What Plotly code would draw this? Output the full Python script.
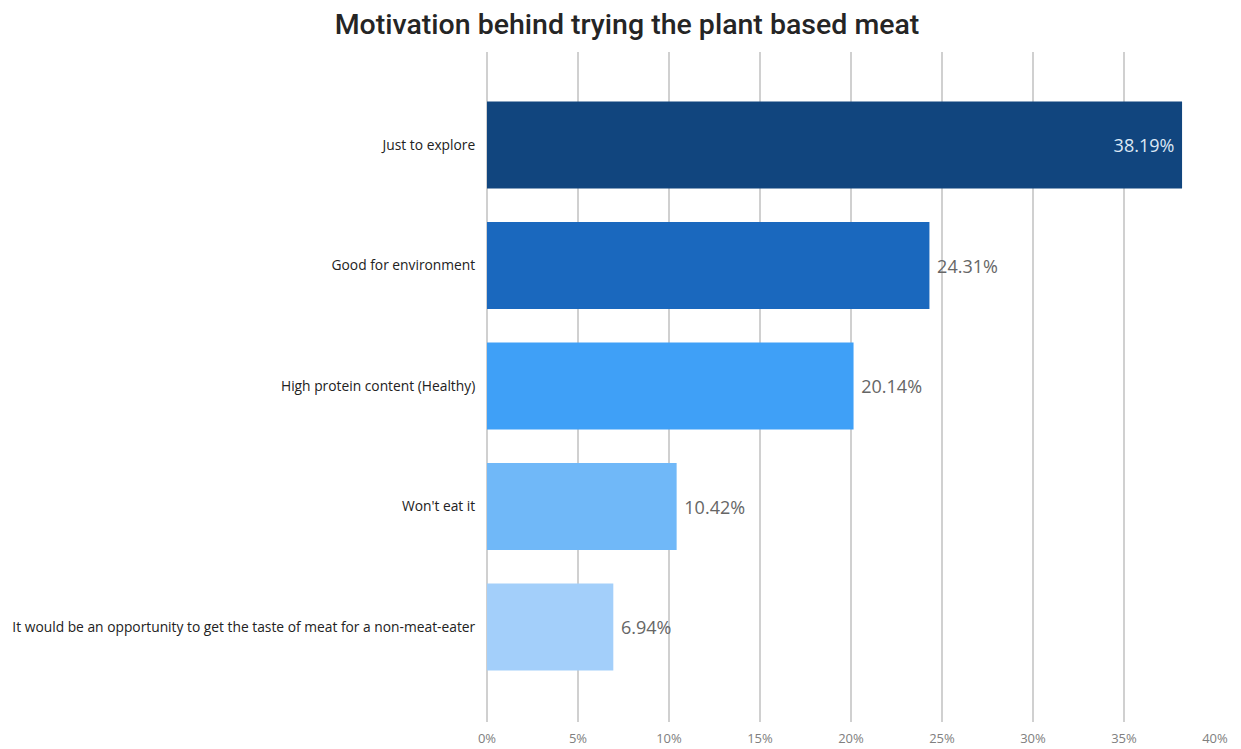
import plotly.graph_objects as go

categories = [
    "Just to explore",
    "Good for environment",
    "High protein content (Healthy)",
    "Won't eat it",
    "It would be an opportunity to get the taste of meat for a non-meat-eater",
]
values = [38.19, 24.31, 20.14, 10.42, 6.94]
colors = ["#11457E", "#1A68BE", "#3FA0F7", "#70B8F8", "#A3CFFA"]
tick_vals = [0, 5, 10, 15, 20, 25, 30, 35, 40]

# bottom-to-top order for plotting
cats_bt = categories[::-1]
vals_bt = values[::-1]
cols_bt = colors[::-1]
inside = [v > 30 for v in vals_bt]
labels_bt = [f"{v:.2f}%\u00a0" if ins else f"\u00a0{v:.2f}%" for v, ins in zip(vals_bt, inside)]
pos_bt = ["inside" if ins else "outside" for ins in inside]
font_cols = ["#DCE8F5" if ins else "#666666" for ins in inside]

W, H = 1233, 741

fig = go.Figure(
    go.Bar(
        x=vals_bt,
        y=list(range(len(cats_bt))),
        orientation="h",
        marker=dict(color=cols_bt, line=dict(width=0)),
        text=labels_bt,
        textposition=pos_bt,
        insidetextanchor="end",
        textfont=dict(family="Open Sans", size=18, color=font_cols),
        cliponaxis=False,
        width=0.722,
    )
)

fig.update_layout(
    width=W,
    height=H,
    paper_bgcolor="white",
    plot_bgcolor="white",
    margin=dict(l=479, r=26, t=44, b=27, autoexpand=False),
    title=dict(
        text="Motivation behind trying the plant based meat",
        x=(627 - 8) / W,
        xanchor="center",
        xref="container",
        y=1 - 16 / H,
        yanchor="middle",
        yref="container",
        font=dict(family="Roboto", size=28.5, color="#252525", weight=500),
    ),
    showlegend=False,
    uniformtext=dict(mode=False),
)
fig.update_xaxes(
    range=[0, 40],
    tickvals=tick_vals,
    ticktext=[f"{t}%" for t in tick_vals],
    showgrid=True,
    gridcolor="#D0D0D0",
    gridwidth=1.5,
    zeroline=True,
    zerolinecolor="#D0D0D0",
    zerolinewidth=1.5,
    showline=False,
    tickfont=dict(family="Open Sans", size=13, color="#808080"),
    ticks="outside",
    ticklen=4,
    tickcolor="rgba(0,0,0,0)",
    automargin=False,
)
fig.update_yaxes(
    tickvals=list(range(len(cats_bt))),
    ticktext=cats_bt,
    range=[-0.788, 4.772],
    showgrid=False,
    zeroline=False,
    tickfont=dict(family="Open Sans", size=13.8, color="#222222"),
    ticks="outside",
    ticklen=8,
    tickcolor="rgba(0,0,0,0)",
    automargin=False,
)

fig.write_html("out.html")
